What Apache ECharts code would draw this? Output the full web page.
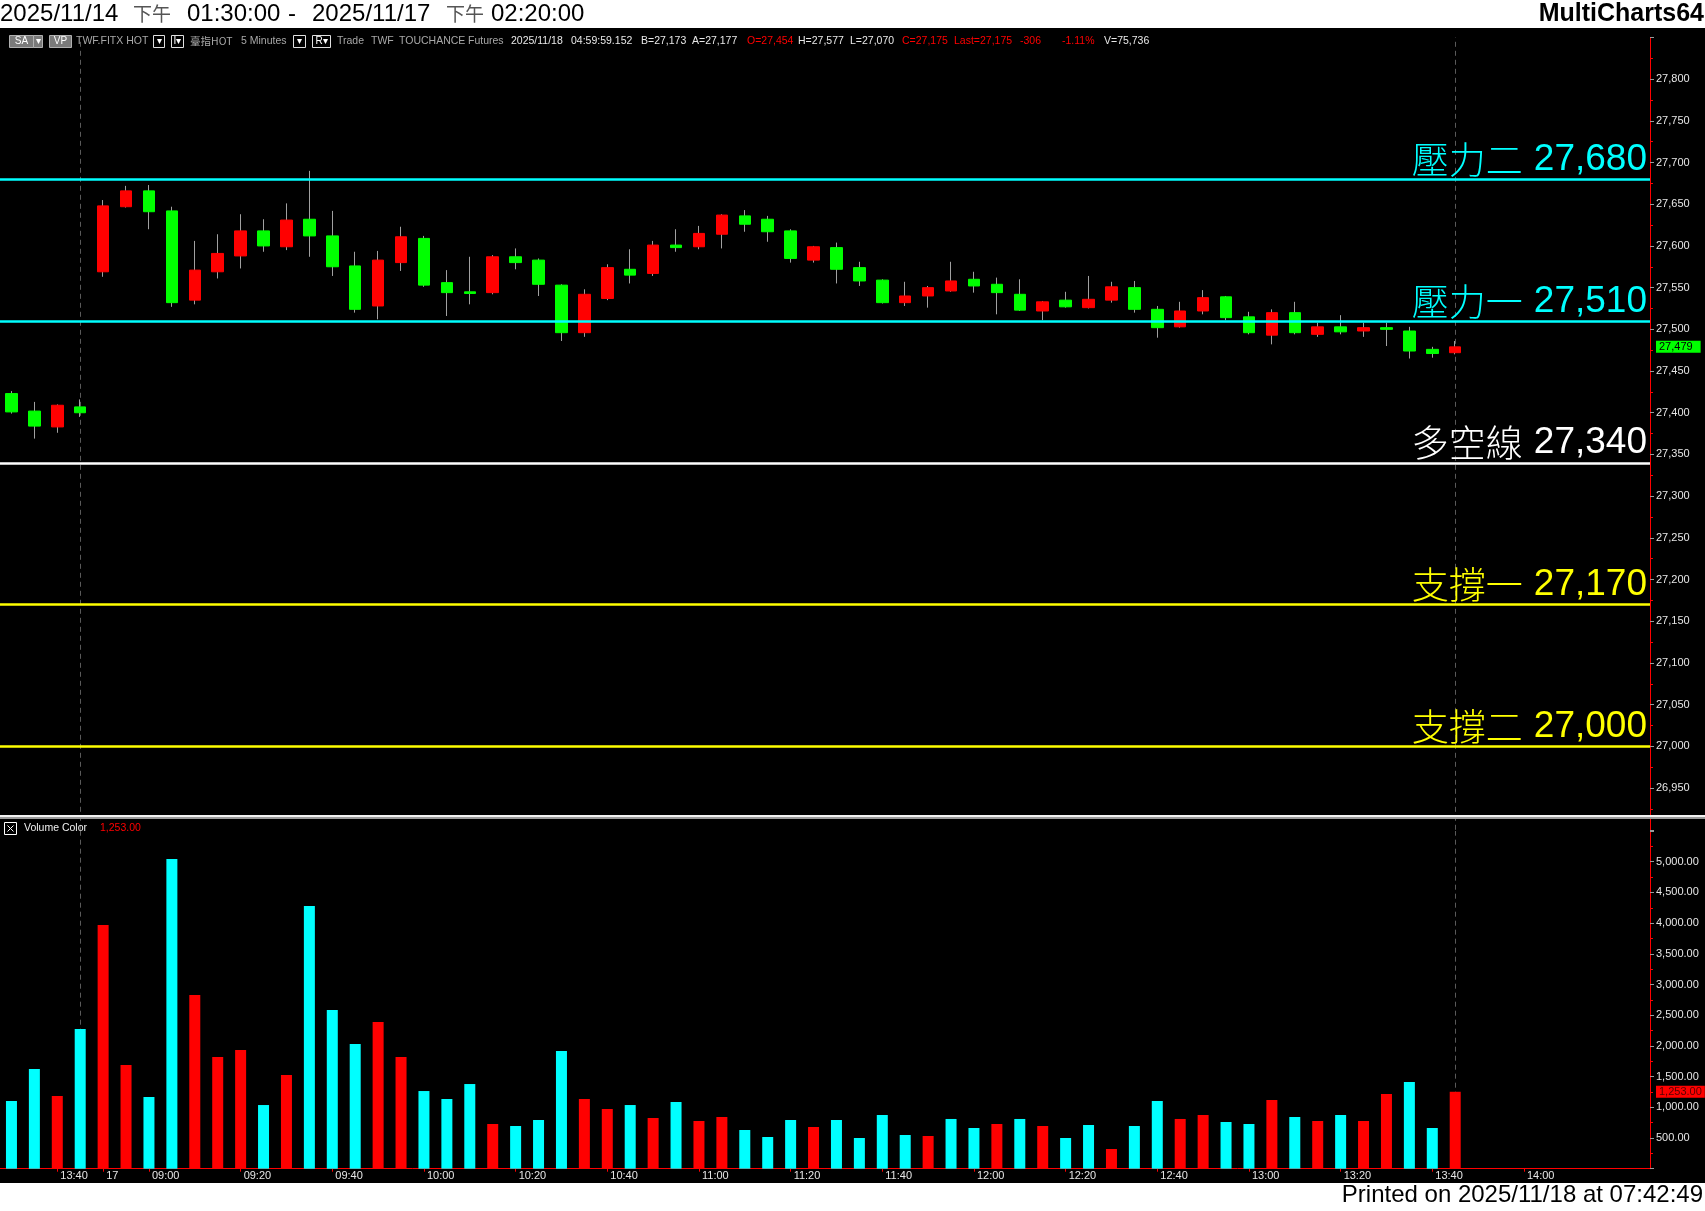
<!DOCTYPE html>
<html><head><meta charset="utf-8">
<script src="https://cdn.jsdelivr.net/npm/echarts@6/dist/echarts.min.js"></script>
<style>html,body{margin:0;padding:0;background:#fff}#c{width:1705px;height:1211px}</style>
</head><body><div id="c"></div>
<script>
// ---------- data ----------
const day14Times = ['13:30','13:35','13:40','13:45'];
const day17Times = ['08:50','08:55','09:00','09:05','09:10','09:15','09:20','09:25','09:30','09:35','09:40','09:45','09:50','09:55',
 '10:00','10:05','10:10','10:15','10:20','10:25','10:30','10:35','10:40','10:45','10:50','10:55',
 '11:00','11:05','11:10','11:15','11:20','11:25','11:30','11:35','11:40','11:45','11:50','11:55',
 '12:00','12:05','12:10','12:15','12:20','12:25','12:30','12:35','12:40','12:45','12:50','12:55',
 '13:00','13:05','13:10','13:15','13:20','13:25','13:30','13:35','13:40','13:45',
 '13:50','13:55','14:00','14:05','14:10','14:15','14:20','14:25'];
const opens  = [27423,27402,27383,27407,27569,27647,27666,27642,27535,27569,27588,27618,27599,27632,27612,27576,27528,27580,27609,27556,27545,27544,27587,27583,27553,27496,27537,27572,27567,27601,27599,27614,27636,27632,27618,27583,27598,27574,27559,27532,27540,27546,27560,27554,27542,27522,27535,27526,27535,27550,27524,27503,27522,27539,27515,27493,27520,27494,27503,27498,27502,27498,27476,27472];
const closes = [27401,27384,27409,27400,27648,27666,27641,27532,27571,27591,27618,27600,27631,27612,27575,27524,27583,27611,27553,27544,27543,27587,27580,27554,27496,27542,27574,27565,27601,27598,27615,27637,27626,27617,27585,27599,27572,27558,27532,27540,27550,27558,27552,27544,27523,27533,27527,27536,27551,27524,27502,27522,27538,27514,27496,27520,27496,27503,27497,27502,27500,27474,27471,27479];
const highs  = [27426,27413,27410,27416,27655,27672,27673,27647,27606,27614,27638,27632,27651,27690,27642,27593,27594,27623,27612,27571,27587,27589,27597,27585,27554,27548,27578,27596,27606,27620,27624,27638,27643,27636,27620,27600,27604,27581,27560,27557,27552,27581,27569,27562,27560,27534,27545,27564,27557,27558,27528,27533,27547,27540,27521,27524,27533,27508,27517,27508,27508,27503,27479,27486];
const lows   = [27399,27369,27376,27395,27563,27646,27620,27527,27530,27561,27573,27593,27595,27587,27564,27520,27512,27570,27551,27516,27530,27542,27572,27540,27486,27491,27535,27555,27564,27593,27596,27597,27617,27605,27580,27580,27555,27552,27531,27528,27526,27545,27544,27518,27522,27511,27526,27525,27532,27520,27490,27502,27518,27511,27494,27482,27494,27491,27494,27491,27480,27465,27466,27470];
const volumes = [1103,1624,1184,2275,3969,1689,1168,5044,2829,1819,1933,1037,1526,4278,2585,2031,2389,1819,1265,1135,1379,728,695,793,1917,1135,972,1037,826,1086,777,842,630,516,793,679,793,500,875,549,533,810,663,728,810,695,500,712,321,695,1103,810,875,761,728,1119,842,777,875,777,1217,1412,663,1253];
const volumeSide = ['d','d','u','d','u','u','d','d','u','u','u','d','u','d','d','d','u','u','d','d','d','u','d','d','d','u','u','d','u','d','u','u','d','d','d','u','d','d','d','d','u','d','d','u','d','u','d','d','u','d','d','u','u','d','d','u','d','u','d','u','u','d','d','u'];
const levelNames  = ['壓力二','壓力一','多空線','支撐一','支撐二'];
const levelValues = [27680, 27510, 27340, 27170, 27000];
const sessionEnds = ['11/14 13:45', '11/17 13:45'];
const xTickCats  = ['11/14 13:40','11/17 08:50','11/17 09:00','11/17 09:20','11/17 09:40','11/17 10:00','11/17 10:20','11/17 10:40','11/17 11:00','11/17 11:20','11/17 11:40','11/17 12:00','11/17 12:20','11/17 12:40','11/17 13:00','11/17 13:20','11/17 13:40','11/17 14:00'];
const xTickTexts = ['13:40','17','09:00','09:20','09:40','10:00','10:20','10:40','11:00','11:20','11:40','12:00','12:20','12:40','13:00','13:20','13:40','14:00'];

// ---------- build ----------
const categories = day14Times.map(t => '11/14 ' + t).concat(day17Times.map(t => '11/17 ' + t));
const levelColors = ['#00ffff','#00ffff','#ffffff','#ffff00','#ffff00'];
const fmtInt = v => Number(v).toLocaleString('en-US');
const fmt2 = v => Number(v).toLocaleString('en-US', {minimumFractionDigits:2, maximumFractionDigits:2});
const last = closes.length - 1;
const tickInt = (i, v) => xTickCats.indexOf(v) >= 0;

const bodyData = opens.map((o, i) => [o, closes[i], Math.min(o, closes[i]), Math.max(o, closes[i])]);
const wickData = opens.map((o, i) => [o, closes[i], lows[i], highs[i]]);

const levelLines = levelValues.map((v, i) => ({
  yAxis: v,
  lineStyle: {color: levelColors[i], width: 2.5, type: 'solid'},
  label: {
    show: true, position: 'insideEndTop', distance: [3, 1],
    formatter: '{c|' + levelNames[i] + '}{s|}{n|' + fmtInt(v) + '}',
    rich: {
      c: {color: levelColors[i], fontSize: 37, fontFamily: '"Noto Sans CJK TC"', fontWeight: 300},
      s: {width: 11},
      n: {color: levelColors[i], fontSize: 37, fontFamily: '"Liberation Sans", Arial'}
    }
  }
}));
levelLines.push({
  yAxis: closes[last],
  lineStyle: {color: 'rgba(0,0,0,0)', width: 1},
  label: {show: true, position: 'end', distance: 6, formatter: fmtInt(closes[last]),
    backgroundColor: '#00ff00', color: '#000', fontSize: 11, fontFamily: '"Liberation Sans", Arial',
    padding: [1, 8, 0, 3]}
});

// ---------- graphics (frame / texts) ----------
const gfx = [];
const F = '"Liberation Sans", Arial, sans-serif';
function T(x, y, text, fill, font, align) {
  return {type: 'text', x: x, y: y, z: 100,
    style: {text: text, fill: fill, font: font, align: align || 'left', textAlign: align || 'left',
      verticalAlign: 'middle', textVerticalAlign: 'middle'}};
}
gfx.push({type: 'rect', z: 90, shape: {x: 0, y: 0, width: 1705, height: 28}, style: {fill: '#fff'}});
gfx.push({type: 'rect', z: 90, shape: {x: 0, y: 1183, width: 1705, height: 28}, style: {fill: '#fff'}});
// title
const tf = '24px ' + F, cf = '19px "Noto Sans CJK TC"';
[[0,'2025/11/14',tf,'#000'],[133,'下午',cf,'#555'],[187,'01:30:00',tf,'#000'],[288,'-',tf,'#000'],
 [312,'2025/11/17',tf,'#000'],[446,'下午',cf,'#555'],[491,'02:20:00',tf,'#000']]
 .forEach(a => gfx.push(T(a[0], 14, a[1], a[3], a[2])));
gfx.push(T(1704, 14, 'MultiCharts64', '#000', 'bold 25px ' + F, 'right'));
gfx.push(T(1703, 1195, 'Printed on 2025/11/18 at 07:42:49', '#000', '24px ' + F, 'right'));
// info bar
const sf = '10.5px ' + F, gray = '#a8a8a8', wht = '#e8e8e8', red = '#ff0000';
[[9,24,'SA',true],[33,9,'▾',true],[49,22,'VP',true],[153,11,'▾',false],[171,12,'I▾',false],[293,12,'▾',false],[312,18,'R▾',false]]
 .forEach(b => {
   gfx.push({type: 'rect', z: 100, shape: {x: b[0] + 0.5, y: 35.5, width: b[1], height: 12},
     style: {fill: b[3] ? '#7a7a7a' : '#000', stroke: b[3] ? '#b0b0b0' : '#e0e0e0', lineWidth: 1}});
   gfx.push(T(b[0] + 0.5 + b[1] / 2, 41.5, b[2], '#fff', '10px ' + F, 'center'));
 });
[[76,'TWF.FITX HOT',gray],[190,'臺指HOT',gray],[241,'5 Minutes',gray],[337,'Trade',gray],[371,'TWF',gray],
 [399,'TOUCHANCE',gray],[468,'Futures',gray],[511,'2025/11/18',wht],[571,'04:59:59.152',wht],[641,'B=27,173',wht],
 [692,'A=27,177',wht],[747,'O=27,454',red],[798,'H=27,577',wht],[850,'L=27,070',wht],[902,'C=27,175',red],
 [954,'Last=27,175',red],[1020,'-306',red],[1062,'-1.11%',red],[1104,'V=75,736',wht]]
 .forEach(a => gfx.push(T(a[0], 41.5, a[1], a[2], a[1] === '臺指HOT' ? '10.5px "Noto Sans CJK TC", ' + F : sf)));
// pane separator
gfx.push({type: 'rect', z: 100, shape: {x: 0, y: 815, width: 1705, height: 2}, style: {fill: '#f2f2f2'}});
gfx.push({type: 'rect', z: 100, shape: {x: 0, y: 817, width: 1705, height: 2}, style: {fill: '#9a9a9a'}});
// volume legend
gfx.push({type: 'rect', z: 100, shape: {x: 4.5, y: 822.5, width: 12, height: 12}, style: {fill: 'none', stroke: '#fff', lineWidth: 1}});
gfx.push({type: 'line', z: 100, shape: {x1: 7.5, y1: 825.5, x2: 13.5, y2: 831.5}, style: {stroke: '#fff', lineWidth: 1}});
gfx.push({type: 'line', z: 100, shape: {x1: 13.5, y1: 825.5, x2: 7.5, y2: 831.5}, style: {stroke: '#fff', lineWidth: 1}});
gfx.push(T(24, 828.5, 'Volume Color', '#f0f0f0', sf));
gfx.push(T(100, 828.5, fmt2(volumes[last]), '#ff0000', sf));

const dashLines = sessionEnds.map(c => ({xAxis: c}));

const option = {
  animation: false,
  backgroundColor: '#000',
  graphic: {elements: gfx},
  grid: [
    {left: 0, top: 37.4, width: 1650, height: 792.4},
    {left: 0, top: 831, width: 1650, height: 337.7}
  ],
  xAxis: [
    {type: 'category', gridIndex: 0, data: categories, boundaryGap: true, show: false},
    {type: 'category', gridIndex: 1, data: categories, boundaryGap: true,
     axisLine: {show: true, onZero: false, lineStyle: {color: '#ff0000', width: 1}},
     axisTick: {show: true, alignWithLabel: true, interval: tickInt, length: 3, lineStyle: {color: '#ff0000'}},
     axisLabel: {show: true, interval: tickInt, formatter: v => xTickTexts[xTickCats.indexOf(v)],
       align: 'left', padding: [0, 0, 0, 3], color: '#e6e6e6', fontSize: 11, fontFamily: F, margin: 2},
     splitLine: {show: false}}
  ],
  yAxis: [
    {type: 'value', gridIndex: 0, position: 'right', min: 26900, max: 27850, interval: 50,
     axisLine: {show: true, lineStyle: {color: '#ff0000', width: 1}},
     axisTick: {show: true, length: 4, lineStyle: {color: '#9a9a9a'}},
     minorTick: {show: true, splitNumber: 2, length: 3, lineStyle: {color: '#ff0000'}},
     axisLabel: {showMinLabel: false, showMaxLabel: false, margin: 6, color: '#e6e6e6', fontSize: 11, fontFamily: F,
       formatter: v => fmtInt(v)},
     splitLine: {show: false}},
    {type: 'value', gridIndex: 1, position: 'right', min: 0, max: 5500, interval: 500,
     axisLine: {show: true, lineStyle: {color: '#ff0000', width: 1}},
     axisTick: {show: true, length: 4, lineStyle: {color: '#9a9a9a'}},
     minorTick: {show: true, splitNumber: 2, length: 3, lineStyle: {color: '#ff0000'}},
     axisLabel: {showMinLabel: false, showMaxLabel: false, margin: 6, color: '#e6e6e6', fontSize: 11, fontFamily: F,
       formatter: v => fmt2(v)},
     splitLine: {show: false}}
  ],
  series: [
    {name: 'wick', type: 'candlestick', xAxisIndex: 0, yAxisIndex: 0, barWidth: 0.3, data: wickData,
     itemStyle: {color: '#a0a0a0', color0: '#a0a0a0', borderColor: '#a0a0a0', borderColor0: '#a0a0a0', borderWidth: 1},
     markLine: {symbol: 'none', silent: true, z: 1, label: {show: false},
       lineStyle: {color: '#5a5a5a', type: [5, 4], width: 1}, data: dashLines}},
    {name: 'body', type: 'candlestick', xAxisIndex: 0, yAxisIndex: 0, barWidth: 12, data: bodyData,
     itemStyle: {color: '#ff0000', color0: '#00ff00', borderColor: '#ff0000', borderColor0: '#00ff00', borderWidth: 1},
     markLine: {symbol: 'none', silent: true, data: levelLines}},
    {name: 'Volume', type: 'bar', xAxisIndex: 1, yAxisIndex: 1, barWidth: 11,
     data: volumes.map((v, i) => ({value: v, itemStyle: {color: volumeSide[i] === 'u' ? '#ff0000' : '#00ffff'}})),
     markLine: {symbol: 'none', silent: true, z: 1,
       data: dashLines.map(d => ({xAxis: d.xAxis, lineStyle: {color: '#5a5a5a', type: [5, 4], width: 1}, label: {show: false}}))
         .concat([{yAxis: volumes[last], lineStyle: {color: 'rgba(0,0,0,0)', width: 1},
           label: {show: true, position: 'end', distance: 6, formatter: fmt2(volumes[last]),
             backgroundColor: '#ff0000', color: '#5a0000', fontSize: 11, fontFamily: F, padding: [1, 3, 0, 3]}}])}}
  ]
};
const chart = echarts.init(document.getElementById('c'), null, {renderer: 'canvas'});
chart.setOption(option);
</script>
</body></html>
